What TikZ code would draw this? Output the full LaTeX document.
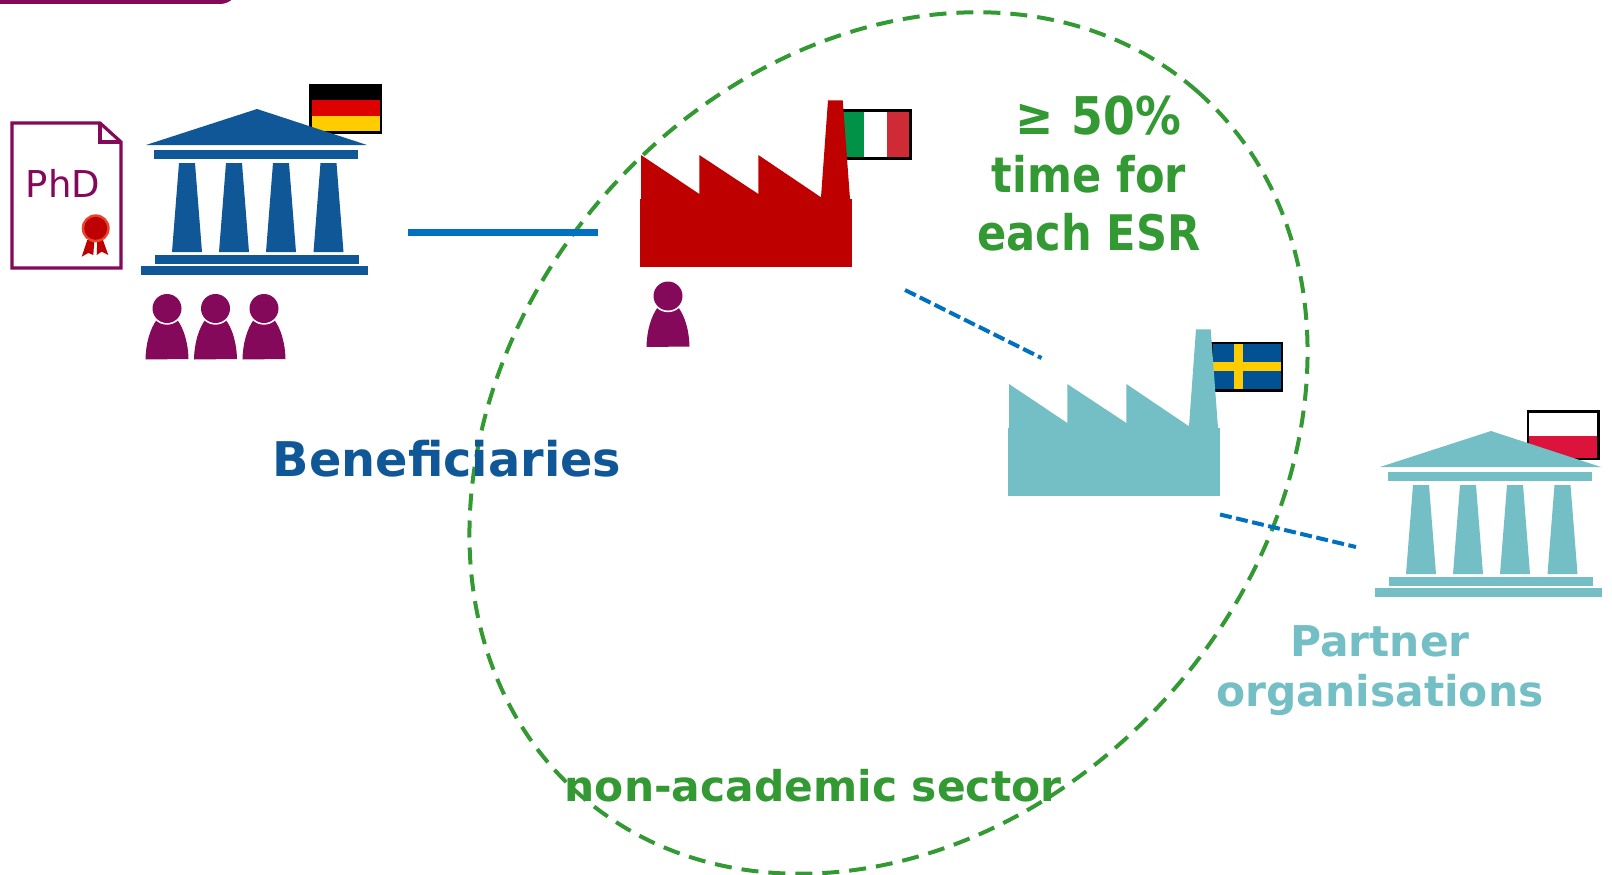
\documentclass[tikz,border=0pt]{standalone}
\usepackage{fontspec}
\setmainfont{DejaVu Sans}
\newfontfamily\tahomalike{DejaVu Sans}[FakeStretch=0.88]
\definecolor{bluebuild}{HTML}{105797}
\definecolor{tealbuild}{HTML}{74BFC5}
\definecolor{factred}{HTML}{BE0000}
\definecolor{purp}{HTML}{84095B}
\definecolor{greenc}{HTML}{339933}
\definecolor{linkblue}{HTML}{0070C0}
\definecolor{flaggold}{HTML}{FFCC00}
\definecolor{derot}{HTML}{DD0000}
\definecolor{itgreen}{HTML}{009246}
\definecolor{itred}{HTML}{CE2B37}
\definecolor{seblue}{HTML}{005293}
\definecolor{plred}{HTML}{DC143C}
\definecolor{medalrim}{HTML}{E8452A}
\tikzset{
  building/.pic={
    \fill (146,145) -- (257,109) -- (367,145) -- cycle;
    \fill (154,150) rectangle (358,159);
    \foreach \a in {0,47,94,141.5} {
      \fill ([xshift=\a pt]179,163) -- ([xshift=\a pt]195,163) -- ([xshift=\a pt]202,252) -- ([xshift=\a pt]172,252) -- cycle;
    }
    \fill (155,255) rectangle (359,264);
    \fill (141,266) rectangle (368,275);
  },
  factory/.pic={
    \fill (641,155) -- (699.3,194) -- (699.3,155) -- (758.3,194) -- (758.3,155) -- (821,197.3)
      -- (828,100.3) -- (842.7,100.3) -- (850,199) -- (641,199) -- cycle;
    \fill (640,199) rectangle (852,267);
  },
  person/.pic={
    \fill[purp] (-21.5,51) .. controls (-21.2,35) and (-17,20) .. (-10,11) -- (10,11)
       .. controls (17,20) and (21.2,35) .. (21.5,50.5) -- cycle;
    \fill[white] (0,0) circle[radius=16.2];
    \fill[purp] (0,0) circle[radius=14.5];
  },
  flagframe/.style={draw=black,line width=2.2pt},
  zone/.style={draw=greenc,line width=4pt,dash pattern=on 17pt off 10pt},
  solidlink/.style={draw=linkblue,line width=7.5pt},
  dashlink/.style={draw=linkblue,line width=4pt,dash pattern=on 12pt off 4.5pt},
  label/.style={font=\bfseries\fontsize{#1}{#1}\selectfont,align=center,inner sep=0pt},
  label/.default=46,
}
\begin{document}
\begin{tikzpicture}[x=1pt,y=-1pt]
\useasboundingbox (0,0) rectangle (1612,875);
\fill[white] (0,0) rectangle (1612,875);

% top bar
\fill[purp,rounded corners=18pt] (-30,-40) rectangle (238,4);

% zone ellipse
\draw[zone] (888.5,443) ellipse [x radius=468pt,y radius=377pt,rotate=48.7];

% PhD document
\draw[purp,line width=3.2pt,line join=miter] (12,123) -- (100,123) -- (121,142) -- (121,268) -- (12,268) -- cycle;
\draw[purp,line width=3.2pt] (100,123) -- (100,142) -- (121,142);
\node[inner sep=0pt,text=purp,font=\fontsize{37}{37}\selectfont] (phd) at (63,183) {PhD};
\fill[factred] (87.3,240) -- (81.7,256.7) -- (88.3,253) -- (93.3,255) -- (94.3,240.7) -- cycle;
\fill[factred] (97.3,240.7) -- (96.7,255) -- (101.7,251.7) -- (108.3,255) -- (102.7,239.3) -- cycle;
\fill[medalrim] (95.7,228.3) circle[radius=14];
\fill[factred] (95.7,228.3) circle[radius=11.5];

% Germany flag
\fill[black] (310,84) rectangle (381.5,100);
\fill[derot] (310,100) rectangle (381.5,116);
\fill[flaggold] (310,116) rectangle (381.5,132);
\draw[flagframe] (310.5,85) rectangle (381,132.5);

% beneficiary building
\pic[bluebuild] {building};

% people
\pic at (167,308.5) {person};
\pic at (215.5,308.5) {person};
\pic at (264,308.5) {person};
\pic at (668,296) {person};

% Italy flag
\fill[itgreen] (839,110.5) rectangle (864,158.5);
\fill[itred] (887,110.5) rectangle (910,158.5);
\draw[flagframe] (839,110.5) rectangle (910.5,158.5);
\pic[factred] {factory};

% Sweden flag
\fill[seblue] (1212,343) rectangle (1282,390.5);
\fill[flaggold] (1234.3,343) rectangle (1243.2,390.5);
\fill[flaggold] (1212,362) rectangle (1282,371);
\draw[flagframe] (1212,343) rectangle (1282,390.5);
\pic[tealbuild] at (368,229) {factory};

% Poland flag
\fill[plred] (1528,435.5) rectangle (1598.5,459);
\draw[flagframe] (1528,411.5) rectangle (1598.5,459);
\pic[tealbuild] at (1234,322) {building};

% connectors
\coordinate (a1) at (408,232.5);
\coordinate (a2) at (598,232.5);
\coordinate (b1) at (905,290);
\coordinate (b2) at (1041.5,358);
\coordinate (c1) at (1220,514.5);
\coordinate (c2) at (1356,547);
\draw[solidlink] (a1) -- (a2);
\draw[dashlink] (b1) -- (b2);
\draw[dashlink] (c1) -- (c2);

% labels
\node[label=47.8,text=bluebuild] (ben) at (447,459) {Beneficiaries};
\node[label=42.4,text=tealbuild] (part) at (1380,670.5) {Partner\\[8pt]organisations};
\node[label=42.4,text=greenc] (nonacad) at (813,786) {non-academic sector};
\node[label=47,text=greenc,font=\tahomalike\bfseries\fontsize{49}{58}\selectfont] (esr) at (1089,174) {\hspace*{18pt}{\fontsize{52}{58}\selectfont ≥\hspace{18pt}50\%}\\time for\\each ESR};
\end{tikzpicture}
\end{document}
